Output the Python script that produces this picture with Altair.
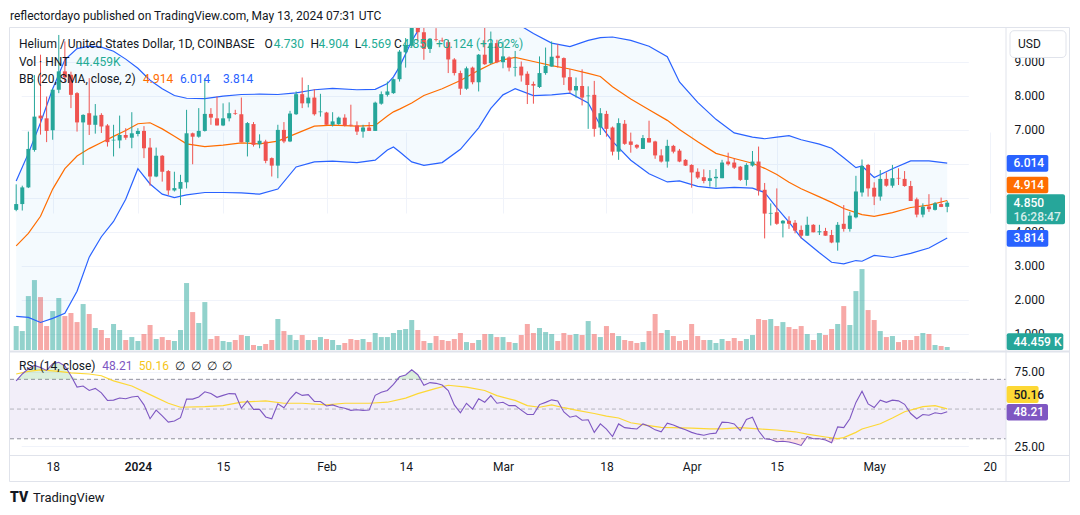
import altair as alt
import pandas as pd

# ---------------- data ----------------
first_day = "2023-12-12"          # one candle per day up to 2024-05-13
opens = [4.64,4.81,5.30,6.40,7.41,7.33,6.98,8.17,8.71,8.61,8.07,7.21,7.48,7.14,7.43,7.12,6.68,6.68,6.84,6.76,
         6.87,6.96,6.47,5.62,6.23,5.78,5.21,5.26,5.45,6.89,6.79,6.96,7.46,7.33,7.12,7.33,7.48,7.45,6.63,7.16,
         6.57,6.65,6.16,5.94,6.99,6.65,7.45,8.04,7.77,7.94,7.51,7.50,7.14,7.16,7.35,7.14,7.12,6.94,7.06,6.96,
         7.76,8.02,8.07,8.48,9.27,9.46,10.05,9.86,9.37,9.66,9.62,9.57,9.06,8.66,8.20,8.82,8.39,9.20,8.95,9.54,8.98,
         9.12,8.82,8.85,8.64,8.34,8.25,8.66,8.85,9.17,9.10,8.54,8.15,8.28,7.98,8.02,7.06,7.46,7.06,6.35,7.17,
         6.65,6.55,6.43,6.75,6.65,6.24,6.06,6.52,6.38,6.11,5.96,5.76,5.60,5.49,5.57,5.57,6.06,6.03,5.91,5.52,
         5.94,6.06,5.23,4.53,4.57,4.24,4.32,4.26,4.05,3.88,4.20,3.98,4.02,3.90,3.68,4.23,4.08,4.42,5.15,5.96,
         5.29,5.03,5.55,5.35,5.58,5.55,5.34,4.95,4.50,4.74,4.64,4.81,4.730]
highs = [5.39,5.35,6.94,8.60,9.20,7.97,8.20,9.78,9.59,8.70,8.10,7.45,8.51,7.75,7.48,7.16,7.14,7.41,7.04,7.51,
         7.04,7.10,6.75,6.47,6.25,5.81,5.76,5.67,7.58,6.91,7.63,8.51,7.63,7.97,7.77,7.80,7.58,7.94,7.22,7.22,
         6.86,6.70,6.18,7.14,7.22,7.55,8.12,8.53,8.31,8.19,8.05,7.52,7.51,7.38,7.45,7.73,7.24,7.14,7.22,7.82,
         8.12,8.41,8.50,9.34,9.69,10.30,10.20,10.00,9.69,9.98,9.70,9.64,9.10,8.73,8.85,8.85,9.22,10.03,9.88,9.64,9.59,
         9.15,9.31,9.00,8.71,8.41,9.15,9.41,9.59,9.51,9.12,8.78,8.53,8.77,8.27,8.43,7.63,7.55,7.09,7.33,7.28,
         6.91,6.57,6.84,7.26,6.67,6.42,6.70,6.55,6.43,6.13,5.98,5.86,5.83,5.81,5.84,6.11,6.32,6.16,5.93,6.01,
         6.37,6.50,5.43,4.83,5.27,4.34,4.45,4.34,4.18,4.44,4.22,4.20,4.11,4.05,4.28,4.78,4.58,5.64,6.12,5.99,
         5.45,5.81,5.74,5.96,5.86,5.78,5.49,5.00,4.83,5.10,4.87,5.00,4.904]
lows = [4.60,4.62,5.28,6.35,6.85,6.63,6.70,8.07,8.40,7.63,6.94,5.96,6.84,6.88,6.90,6.50,6.21,6.45,6.70,6.45,
        6.80,6.16,5.35,5.60,5.47,5.08,5.18,4.78,5.27,5.98,6.76,6.94,7.14,7.12,7.10,7.24,7.43,6.63,6.21,6.50,
        6.45,6.01,5.62,5.57,6.60,6.63,7.43,7.63,7.65,7.41,7.38,7.14,7.09,7.14,7.09,7.09,6.84,6.76,6.96,6.96,
        7.73,7.97,8.05,8.41,8.82,9.40,9.60,9.05,9.25,9.59,9.57,8.66,8.59,8.02,8.17,8.33,8.12,8.90,8.92,8.95,8.80,
        8.71,8.56,8.41,7.75,7.76,8.22,8.61,8.85,8.82,8.31,8.07,7.94,7.71,7.02,6.79,6.84,6.79,6.24,6.11,6.55,
        6.32,6.43,6.43,6.62,6.14,6.03,5.88,6.30,6.04,5.93,5.29,5.55,5.42,5.32,5.30,5.57,5.94,5.84,5.49,5.35,
        5.91,5.06,3.80,4.18,4.20,3.83,4.08,3.95,3.80,3.88,3.98,3.90,3.88,3.66,3.44,4.00,4.00,4.39,5.03,5.03,
        4.78,4.91,5.32,5.29,5.37,5.32,4.90,4.42,4.42,4.58,4.62,4.72,4.569]
closes = [4.81,5.30,6.43,7.38,7.33,6.96,8.17,8.71,8.53,8.02,7.21,7.43,7.14,7.41,7.09,6.63,6.70,6.84,6.76,6.89,
          6.96,6.45,5.62,6.23,5.76,5.21,5.28,5.46,6.89,6.79,6.96,7.46,7.35,7.12,7.33,7.48,7.46,6.63,7.19,6.55,
          6.67,6.08,5.94,6.99,6.65,7.47,8.04,7.77,7.94,7.45,7.53,7.14,7.24,7.35,7.12,7.12,6.94,7.06,6.96,7.79,
          8.04,8.12,8.48,9.29,9.46,10.10,9.86,9.37,9.67,9.64,9.60,9.06,8.66,8.20,8.80,8.39,9.20,8.92,9.54,8.98,9.15,
          8.82,8.84,8.59,8.31,8.29,8.66,8.87,9.14,9.10,8.53,8.15,8.28,7.94,8.00,7.02,7.48,7.02,6.35,7.19,6.58,
          6.55,6.47,6.75,6.62,6.24,6.06,6.52,6.35,6.06,5.94,5.74,5.59,5.49,5.57,5.61,6.03,5.98,5.88,5.52,5.96,
          6.06,5.21,4.53,4.55,4.23,4.32,4.23,4.03,3.88,4.20,3.98,4.01,3.88,3.68,4.20,4.08,4.47,5.18,5.93,5.27,
          5.03,5.55,5.35,5.57,5.56,5.34,4.90,4.50,4.73,4.66,4.83,4.726,4.850]
volume_k = [355,281,799,1036,784,355,577,770,503,548,414,681,533,326,296,178,385,296,148,192,
            133,237,370,163,192,148,133,296,992,562,400,710,163,207,133,118,148,222,207,74,
            59,89,148,459,281,222,148,222,148,148,192,163,148,74,104,163,148,163,118,252,
            192,192,252,296,311,444,296,133,104,207,148,133,163,252,118,104,148,237,237,192,192,
            118,104,222,385,252,326,266,237,133,252,222,237,222,429,237,192,355,252,207,148,
            133,104,118,281,533,252,296,207,133,148,385,207,148,148,104,163,133,178,133,163,
            222,459,444,459,355,414,340,311,355,237,148,252,222,311,385,651,370,873,1199,592,
            444,281,192,207,118,148,148,207,252,237,74,59,44.459]
rsi_values = [69.0,73.6,77.1,79.4,78.0,76.0,80.5,81.5,79.0,72.4,
              64.8,65.5,62.5,63.9,60.9,55.8,56.0,57.4,56.9,58.1,
              58.6,52.8,43.5,49.3,45.4,41.2,41.9,44.2,56.7,56.7,
              58.1,61.6,60.4,57.9,59.2,60.4,60.2,50.5,55.5,49.8,
              49.8,44.7,43.5,53.5,50.9,56.9,61.3,59.2,59.7,55.1,
              55.1,52.1,52.8,51.4,50.5,49.1,49.5,49.1,49.3,59.2,
              61.3,62.5,66.6,71.7,72.9,76.4,73.1,66.0,67.8,67.3,
              66.2,62.5,52.8,47.5,53.9,50.0,56.9,54.6,59.0,53.9,
              54.6,52.3,52.3,49.3,46.3,46.3,53.0,54.5,56.2,55.5,
              48.0,44.5,45.5,42.5,42.8,34.3,40.0,36.5,31.5,40.0,
              37.5,37.0,36.6,40.0,38.4,36.0,34.7,40.5,39.2,37.5,
              36.0,34.3,33.1,32.4,33.4,33.8,41.2,41.0,40.0,35.5,
              43.0,44.5,35.4,30.0,29.5,28.0,28.3,27.8,26.8,25.5,
              31.5,30.0,30.0,29.2,27.3,38.0,37.5,43.5,54.5,62.0,
              53.5,51.0,56.0,54.5,56.0,55.5,53.2,47.0,43.5,46.3,
              45.8,47.5,46.8,48.21]

# RSI-based MA, read at sampled days (days after 2023-12-18)
ma_days = [-6,-4,-2,1,3,6,8,10,13,16,19,21,25,28,31,35,38,41,45,48,52,55,58,60,63,65,68,71,73,76,78,80,82,84,86,
           89,91,93,95,98,100,105,108,110,113,116,119,122,124,127,129,130,132,133,136,138,140,142,143,145,147]
ma_values = [73.6,75.4,76.4,75.4,74.3,73.6,72.4,69.0,65.5,59.7,53.9,51.2,51.6,52.3,54.6,55.5,53.9,53.9,52.8,53.9,
             53.9,54.6,57.4,60.4,63.9,66.0,64.8,62.5,59.0,55.8,52.3,51.2,52.8,50.9,49.3,47.0,45.2,44.0,40.8,38.9,
             37.7,37.1,36.6,36.6,37.5,36.6,35.9,34.7,33.1,31.2,30.1,30.8,34.3,36.6,40.1,44.0,48.2,50.5,51.6,52.3,50.16]

# Bollinger bands, read at sampled days (days after 2023-12-18)
bb_days = [-6,-4,-2,0,2,4,6,8,10,12,14,16,18,20,22,25,28,31,34,37,40,43,46,50,53,55,56,57,59,61,64,67,70,72,74,76,
           79,82,85,88,90,92,95,98,101,103,106,109,112,115,117,119,121,123,126,128,130,132,133,135,138,141,144,147]
bb_upper = [5.49,6.30,7.20,8.20,9.05,9.38,9.45,9.42,9.30,9.07,8.80,8.45,8.20,8.00,7.92,7.91,7.98,8.03,8.04,8.03,
            8.08,8.17,8.21,8.17,8.18,8.35,8.55,8.85,9.60,10.20,10.50,10.50,10.45,10.40,10.30,10.15,9.82,9.54,9.44,
            9.62,9.70,9.72,9.62,9.45,9.14,8.40,7.80,7.30,6.90,6.78,6.73,6.78,6.82,6.70,6.57,6.45,6.17,5.88,5.93,
            5.59,5.85,6.08,6.08,6.014]
bb_mid = [3.58,3.95,4.45,5.25,5.85,6.22,6.44,6.62,6.80,6.97,7.17,7.20,7.02,6.80,6.58,6.50,6.54,6.61,6.58,6.66,
          6.88,7.10,7.13,7.10,7.12,7.40,7.52,7.60,7.78,8.00,8.20,8.44,8.74,8.92,9.05,9.12,9.00,8.88,8.78,8.65,
          8.56,8.26,7.90,7.58,7.27,7.00,6.64,6.30,6.15,6.01,5.86,5.68,5.45,5.26,5.02,4.86,4.68,4.56,4.50,4.45,
          4.56,4.71,4.78,4.914]
bb_lower = [1.51,1.48,1.33,1.45,1.60,2.25,3.25,3.85,4.30,4.95,5.85,5.40,5.10,5.00,5.08,5.15,5.15,5.14,5.10,5.25,
            5.90,6.05,6.07,6.03,6.10,6.40,6.49,6.35,6.05,5.95,6.03,6.42,7.05,7.62,8.02,8.20,8.00,8.02,8.07,7.78,
            7.12,6.65,6.10,5.70,5.46,5.49,5.33,5.27,5.30,5.28,5.15,4.70,4.28,3.82,3.38,3.10,3.05,3.15,3.13,3.30,
            3.24,3.36,3.52,3.814]

tick_dates = ["2023-12-18","2024-01-01","2024-01-15","2024-02-01","2024-02-14","2024-03-01",
              "2024-03-18","2024-04-01","2024-04-15","2024-05-01","2024-05-20"]
price_ticks = [1, 2, 3, 4, 5, 6, 7, 8, 9]
rsi_ticks = [25, 75]

# ---------------- tables ----------------
days = pd.date_range(first_day, periods=len(closes), freq="D")
assert len(opens) == len(highs) == len(lows) == len(closes) == len(volume_k) == len(rsi_values) == 154
df = pd.DataFrame({"date": days.strftime("%Y-%m-%d"), "open": opens, "high": highs, "low": lows,
                   "close": closes, "vol": volume_k, "rsi": rsi_values})
base = pd.Timestamp("2023-12-18")
bb = pd.DataFrame({"date": [(base + pd.Timedelta(days=d)).strftime("%Y-%m-%d") for d in bb_days],
                   "upper": bb_upper, "mid": bb_mid, "lower": bb_lower})
ma = pd.DataFrame({"date": [(base + pd.Timedelta(days=d)).strftime("%Y-%m-%d") for d in ma_days],
                   "ma": ma_values})
ONE = pd.DataFrame({"k": [0]})

# ---------------- geometry ----------------
PL, PT, W, H = 10, 27, 996, 428
def vx(x): return x - PL
def vy(y): return y - PT

GREEN, RED = "#26a69a", "#ef5350"
BLUE, ORANGE, PURPLE, YELLOW = "#2962ff", "#ff6d00", "#7e57c2", "#fdd835"
DARK, GRID, FRAME = "#131722", "#f0f3fa", "#e0e3eb"
FONT = "Roboto"

def dt(s):
    y, m, d = (int(v) for v in s.split("-"))
    return alt.DateTime(year=y, month=m, date=d, utc=True)

xscale = alt.Scale(type="utc", domain=[dt("2023-12-18"), dt("2024-05-20")], range=[vx(47.7), vx(994.8)])
xaxis = alt.Axis(values=[dt(s) for s in tick_dates], grid=True, gridColor=GRID, ticks=False, domain=False,
                 labelPadding=6, labelFontSize=12, labelColor=DARK, labelFont=FONT, title=None,
                 labelOverlap=False, labelFlush=False,
                 labelExpr="utcdate(datum.value) == 1 ? (utcmonth(datum.value) == 0 ? utcFormat(datum.value, '%Y') : utcFormat(datum.value, '%b')) : utcFormat(datum.value, '%-d')",
                 labelFontWeight={"condition": {"test": "utcdate(datum.value) == 1 && utcmonth(datum.value) == 0", "value": 600}, "value": 400})
X = alt.X("date:T", scale=xscale, axis=xaxis)

pscale = alt.Scale(domain=[1, 9], range=[vy(333.7), vy(61.5)], zero=False, nice=False)
# 5.000 and 6.000 sit fully under the value tags in the reference, so only their grid lines show
paxis = alt.Axis(orient="right", values=price_ticks, grid=True, gridColor=GRID, ticks=False,
                 labelExpr="datum.value == 5 || datum.value == 6 ? '' : format(datum.value, '.3f')",
                 domain=False, labelPadding=8, labelFontSize=12, labelColor=DARK, labelFont=FONT, title=None)
vscale = alt.Scale(domain=[0, 1200], range=[vy(350), vy(269)], nice=False)
rscale = alt.Scale(domain=[25, 75], range=[vy(446.2), vy(371.9)], zero=False, nice=False)
raxis = alt.Axis(orient="right", values=rsi_ticks, format=".2f", grid=True, gridColor=GRID, ticks=False,
                 domain=False, labelPadding=8, labelFontSize=12, labelColor=DARK, labelFont=FONT, title=None)

updown = alt.condition("datum.close >= datum.open", alt.value(GREEN), alt.value(RED))

layers = []
# RSI pane background band
layers.append(alt.Chart(ONE).mark_rect(color=PURPLE, opacity=0.1).encode(
    x=alt.value(0), x2=alt.value(W),
    y=alt.YDatum(70, type="quantitative", scale=rscale, axis=None), y2=alt.Y2Datum(30)))
# volume
layers.append(alt.Chart(df).mark_bar(size=5, opacity=0.5, clip=True).encode(
    x=X, y=alt.Y("vol:Q", scale=vscale, axis=None), color=updown))
# Bollinger fill and lines
layers.append(alt.Chart(bb).mark_area(color="#2196f3", opacity=0.05, clip=True).encode(
    x=X, y=alt.Y("upper:Q", scale=pscale, axis=None), y2="lower:Q"))
for col, colr in (("upper", BLUE), ("lower", BLUE), ("mid", ORANGE)):
    layers.append(alt.Chart(bb).mark_line(color=colr, strokeWidth=1.2, clip=True).encode(
        x=X, y=alt.Y(f"{col}:Q", scale=pscale, axis=None)))
# candles
layers.append(alt.Chart(df).mark_rule(strokeWidth=1, clip=True).encode(
    x=X, y=alt.Y("low:Q", scale=pscale, axis=None), y2="high:Q", color=updown))
layers.append(alt.Chart(df).mark_bar(size=4, clip=True).encode(
    x=X, y=alt.Y("open:Q", scale=pscale, axis=paxis), y2="close:Q", color=updown))
# RSI levels
for lvl, op in ((70, 0.8), (50, 0.5), (30, 0.8)):
    layers.append(alt.Chart(ONE).mark_rule(color="#787b86", strokeDash=[4, 3], strokeWidth=1, opacity=op).encode(
        x=alt.value(0), x2=alt.value(W),
        y=alt.YDatum(lvl, type="quantitative", scale=rscale, axis=None)))
# overbought / oversold fills
layers.append(alt.Chart(df).transform_calculate(ob="max(datum.rsi, 70)").mark_area(
    color="#4caf50", opacity=0.2).encode(x=X, y=alt.Y("ob:Q", scale=rscale, axis=None), y2=alt.Y2Datum(70)))
layers.append(alt.Chart(df).transform_calculate(os="min(datum.rsi, 30)").mark_area(
    color="#f23645", opacity=0.15).encode(x=X, y=alt.Y("os:Q", scale=rscale, axis=None), y2=alt.Y2Datum(30)))
layers.append(alt.Chart(ma).mark_line(color=YELLOW, strokeWidth=1.2).encode(
    x=X, y=alt.Y("ma:Q", scale=rscale, axis=None)))
layers.append(alt.Chart(df).mark_line(color=PURPLE, strokeWidth=1.1).encode(
    x=X, y=alt.Y("rsi:Q", scale=rscale, axis=raxis)))

# frame and separators
def hline(y, x1, x2, w=1, c=FRAME):
    return alt.Chart(ONE).mark_rule(color=c, strokeWidth=w).encode(
        x=alt.value(vx(x1)), x2=alt.value(vx(x2)), y=alt.value(vy(y)))
def vline(x, y1, y2, w=1, c=FRAME):
    return alt.Chart(ONE).mark_rule(color=c, strokeWidth=w).encode(
        x=alt.value(vx(x)), y=alt.value(vy(y1)), y2=alt.value(vy(y2)))
layers += [hline(27.5, 9.5, 1069.5), hline(481.5, 9.5, 1069.5), vline(9.5, 27.5, 481.5), vline(1069.5, 27.5, 481.5),
           vline(1006, 27.5, 481.5), hline(351.5, 9.5, 1069.5, 2), hline(455.5, 9.5, 1069.5)]

def box(x1, y1, x2, y2, fill, r=2, stroke=None):
    kw = dict(fill=fill, cornerRadius=r)
    if stroke:
        kw.update(stroke=stroke, strokeWidth=1)
    return alt.Chart(ONE).mark_rect(**kw).encode(
        x=alt.value(vx(x1)), x2=alt.value(vx(x2)), y=alt.value(vy(y1)), y2=alt.value(vy(y2)))

def text(s, x, y, color=DARK, size=12, weight="normal", align="left"):
    return alt.Chart(ONE).mark_text(text=s, align=align, baseline="middle", fontSize=size, fontWeight=weight,
                                    font=FONT, color=color).encode(x=alt.value(vx(x)), y=alt.value(vy(y)))

# header / footer
layers.append(text("reflectordayo published on TradingView.com, May 13, 2024 07:31 UTC", 10, 15.5, size=12))
layers.append(text("TV", 10, 498, size=14, weight=900))
layers.append(text("TradingView", 33, 498, size=13))

# legends
LG = "#22ab94"
for s, x, c in [("Helium / United States Dollar, 1D, COINBASE", 19, DARK), ("O", 264.5, DARK), ("4.730", 273.8, LG),
                ("H", 310.6, DARK), ("4.904", 318.5, LG), ("L", 354.7, DARK), ("4.569", 361, LG),
                ("C", 394, DARK), ("4.850", 402.5, LG), ("+0.124 (+2.62%)", 436, LG)]:
    layers.append(text(s, x, 43.7, c))
layers.append(text("Vol · HNT", 19, 62, DARK))
layers.append(text("44.459K", 76, 62, LG))
for s, x, c in [("BB (20, SMA, close, 2)", 19, DARK), ("4.914", 143, ORANGE), ("6.014", 180, BLUE), ("3.814", 223, BLUE)]:
    layers.append(text(s, x, 78.5, c))
for s, x, c in [("RSI (14, close)", 19, DARK), ("48.21", 102.3, PURPLE), ("50.16", 138.8, "#f5c518"),
                ("∅", 175, DARK), ("∅", 191, DARK), ("∅", 206.6, DARK), ("∅", 222, DARK)]:
    layers.append(text(s, x, 366, c))

# price scale tags
layers.append(box(1010, 30.7, 1066, 57.5, "white", r=4, stroke=FRAME))
layers.append(text("USD", 1018, 44, DARK, size=12))
for y1, y2, x2, fill, label, ty in [(155, 171.7, 1048.3, BLUE, "6.014", 163.3),
                                    (176.7, 193.3, 1048.3, ORANGE, "4.914", 185),
                                    (230, 246.7, 1048.3, BLUE, "3.814", 238.3)]:
    layers.append(box(1006.7, y1, x2, y2, fill))
    layers.append(text(label, 1013.5, ty, "white", size=12, weight=500))
layers.append(box(1006.7, 194.3, 1065, 224.3, GREEN))
layers.append(text("4.850", 1013.5, 202.5, "white", size=12, weight=500))
layers.append(text("16:28:47", 1013.5, 216.5, "#d4eeeb", size=12, weight=500))
layers.append(box(1006.7, 333.3, 1063.3, 350, GREEN))
layers.append(text("44.459 K", 1013.5, 341.7, "white", size=12, weight=500))
layers.append(box(1006.6, 386, 1038.6, 403, YELLOW))
layers.append(text("50.16", 1013.5, 394.5, DARK, size=12, weight=500))
layers.append(box(1006.6, 404, 1048, 420.6, PURPLE))
layers.append(text("48.21", 1013.5, 412.3, "white", size=12, weight=500))

chart = alt.layer(*layers).properties(
    width=W, height=H,
    padding={"left": PL, "top": PT, "right": 1080 - PL - W, "bottom": 515 - PT - H},
    autosize=alt.AutoSizeParams(type="none"),
    background="white",
).resolve_scale(y="independent").configure_view(strokeWidth=0)

chart.save("out.html", embed_options={"renderer": "svg", "actions": False})
